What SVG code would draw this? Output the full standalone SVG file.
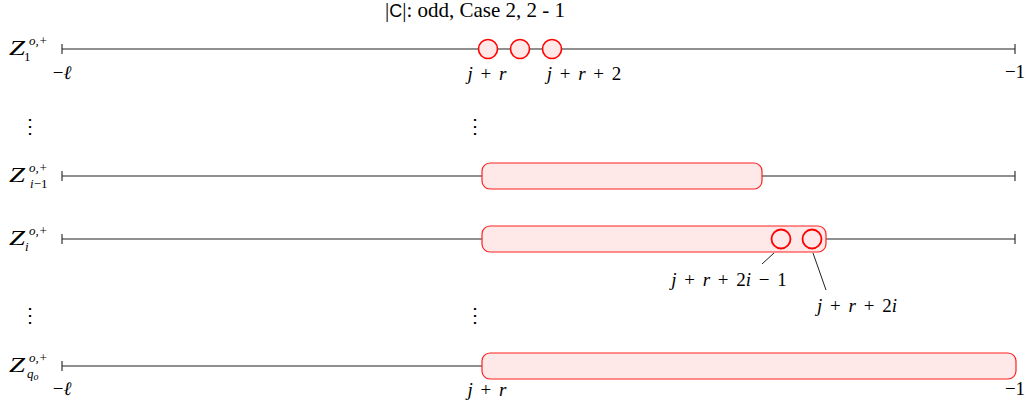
<svg xmlns="http://www.w3.org/2000/svg" width="1032" height="407" viewBox="0 0 1032 407">
<style>
text{font-family:"Liberation Serif","DejaVu Serif",serif;fill:#000;}
.m{font-size:19px;word-spacing:3px;}
.it{font-style:italic;}
.z{font-size:20px;font-style:italic;}
.sup{font-size:13px;font-style:italic;}
.axis{stroke:#222;stroke-width:1.1;fill:none;}
.band{fill:#ffe8e8;stroke:#ff2020;stroke-width:1.2;}
.pt{fill:#ffe8e8;stroke:#ff0000;stroke-width:1.6;}
.pto{fill:none;stroke:#ff0000;stroke-width:1.8;}
.lead{stroke:#222;stroke-width:1;}
.dots{font-size:20px;}
</style>
<rect width="1032" height="407" fill="#fff"/>
<text x="475" y="17" font-size="21" text-anchor="middle">|<tspan font-family="Liberation Sans, sans-serif" font-size="18">C</tspan>|: odd, Case 2, 2 - 1</text>

<g id="row1">
  <path class="axis" d="M62 49H1015M62 44V54M1015 44V54"/>
  <text x="9" y="55" class="z" textLength="16" lengthAdjust="spacingAndGlyphs">Z</text><text x="29" y="45" class="sup">o,+</text><text x="24" y="61" font-size="13">1</text>
  <circle class="pt" cx="488" cy="49" r="9.5"/>
  <circle class="pt" cx="520" cy="49" r="9.5"/>
  <circle class="pt" cx="552" cy="49" r="9.5"/>
  <text x="62" y="79" class="m" text-anchor="middle">−<tspan class="it">ℓ</tspan></text>
  <text x="487" y="80" class="m" text-anchor="middle"><tspan class="it">j</tspan> + <tspan class="it">r</tspan></text>
  <text x="584" y="80" class="m" text-anchor="middle"><tspan class="it">j</tspan> + <tspan class="it">r</tspan> + 2</text>
  <text x="1015" y="78" class="m" text-anchor="middle">−1</text>
</g>

<g id="dots1">
  <text x="30" y="133" class="dots" text-anchor="middle">⋮</text>
  <text x="475" y="133" class="dots" text-anchor="middle">⋮</text>
</g>

<g id="row-im1">
  <path class="axis" d="M62 176H1015M62 171V181M1015 171V181"/>
  <text x="9" y="182" class="z" textLength="16" lengthAdjust="spacingAndGlyphs">Z</text><text x="29" y="172" class="sup">o,+</text><text x="30" y="188" class="sup">i<tspan font-style="normal">−1</tspan></text>
  <rect class="band" x="482" y="163" width="280" height="26" rx="8"/>
</g>

<g id="row-i">
  <path class="axis" d="M62 239H1015M62 234V244M1015 234V244"/>
  <text x="9" y="245" class="z" textLength="16" lengthAdjust="spacingAndGlyphs">Z</text><text x="29" y="235" class="sup">o,+</text><text x="25" y="251" class="sup">i</text>
  <rect class="band" x="482" y="226" width="344" height="26" rx="8"/>
  <circle class="pto" cx="781" cy="239" r="9.5"/>
  <circle class="pto" cx="812" cy="239" r="9.5"/>
  <text x="729" y="286" class="m" text-anchor="middle"><tspan class="it">j</tspan> + <tspan class="it">r</tspan> + 2<tspan class="it">i</tspan> − 1</text>
  <text x="857" y="312" class="m" text-anchor="middle"><tspan class="it">j</tspan> + <tspan class="it">r</tspan> + 2<tspan class="it">i</tspan></text>
</g>

<g id="dots2">
  <text x="30" y="322" class="dots" text-anchor="middle">⋮</text>
  <text x="475" y="322" class="dots" text-anchor="middle">⋮</text>
</g>

<g id="row-q">
  <path class="axis" d="M62 366H1015M62 361V371"/>
  <text x="9" y="372" class="z" textLength="16" lengthAdjust="spacingAndGlyphs">Z</text><text x="29" y="362" class="sup">o,+</text><text x="27" y="378" class="sup">q<tspan font-size="10" dy="2">o</tspan></text>
  <rect class="band" x="482" y="353" width="534" height="26" rx="8"/>
  <text x="62" y="395" class="m" text-anchor="middle">−<tspan class="it">ℓ</tspan></text>
  <text x="487" y="396" class="m" text-anchor="middle"><tspan class="it">j</tspan> + <tspan class="it">r</tspan></text>
  <text x="1015" y="395" class="m" text-anchor="middle">−1</text>
</g>

<g id="connectors">
  <line class="lead" x1="774" y1="253" x2="762" y2="264"/>
  <line class="lead" x1="813" y1="253" x2="826" y2="290"/>
</g>
</svg>
